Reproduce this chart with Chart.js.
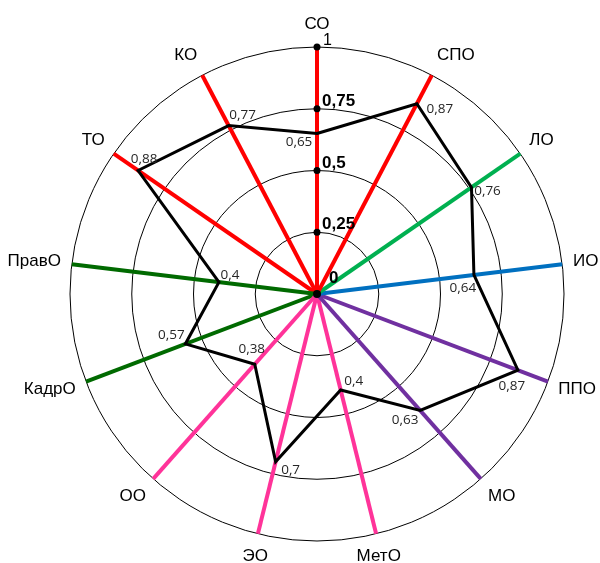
<!DOCTYPE html>
<html>
<head>
<meta charset="utf-8">
<script src="https://cdn.jsdelivr.net/npm/chart.js@4.4.0/dist/chart.umd.min.js"></script>
<style>
  body { margin: 0; background: #fff; }
  #wrap { position: relative; width: 600px; height: 563px; }
</style>
</head>
<body>
<div id="wrap"><canvas id="myChart"></canvas></div>
<script>
const labels = ["СО", "СПО", "ЛО", "ИО", "ППО", "МО", "МетО", "ЭО", "ОО", "КадрО", "ПравО", "ТО", "КО"];
const values = [0.65, 0.87, 0.76, 0.64, 0.87, 0.63, 0.4, 0.7, 0.38, 0.57, 0.4, 0.88, 0.77];
const tickValues = [0, 0.25, 0.5, 0.75, 1];
const tickLabels = ["0", "0,25", "0,5", "0,75", "1"];

const RED = "#ff0000", LGREEN = "#00b050", BLUE = "#0070c0", PURPLE = "#7030a0", PINK = "#ff3399", DGREEN = "#006a00";
const spokeColors = [RED, RED, LGREEN, BLUE, PURPLE, PURPLE, PINK, PINK, PINK, DGREEN, DGREEN, RED, RED];

// where each value label sits relative to its point
const labelOffsets = [[-18, 9], [23, 5], [16, 4], [-11, 13], [-6, 16], [-15, 10], [13, -9], [15, 8], [-3, -15], [-14, -9], [11, -7], [6, -11], [14, -10]];

const radarDecor = {
  id: 'radarDecor',
  afterDraw(chart) {
    const {ctx} = chart;
    const scale = chart.scales.r;
    ctx.save();

    // dots + tick labels on the first axis
    tickValues.forEach((v, i) => {
      const p = scale.getPointPositionForValue(0, v);
      ctx.fillStyle = "black";
      ctx.beginPath();
      ctx.arc(p.x, p.y, v === 0 ? 4 : 3.5, 0, Math.PI * 2);
      ctx.fill();
      ctx.textAlign = "left";
      ctx.textBaseline = "alphabetic";
      if (v === 1) {
        ctx.font = "16px 'Liberation Sans', Arial";
        ctx.fillText(tickLabels[i], p.x + 6, p.y - 2);
      } else if (v === 0) {
        ctx.font = "bold 17px 'Liberation Sans', Arial";
        ctx.fillText(tickLabels[i], p.x + 12, p.y - 11);
      } else {
        ctx.font = "bold 17px 'Liberation Sans', Arial";
        ctx.fillText(tickLabels[i], p.x + 5, p.y - 3);
      }
    });

    // category names round the outside
    ctx.font = "17px 'Liberation Sans', Arial";
    ctx.fillStyle = "black";
    ctx.textBaseline = "middle";
    const gap = 11;
    labels.forEach((lab, i) => {
      const p = scale.getPointPosition(i, scale.drawingArea + gap);
      const sx = (p.x - scale.xCenter) / (scale.drawingArea + gap);
      const cy = -(p.y - scale.yCenter) / (scale.drawingArea + gap);
      ctx.textAlign = Math.abs(sx) < 0.3 ? "center" : (sx > 0 ? "left" : "right");
      ctx.fillText(lab, p.x, p.y - cy * 12);
    });

    // value labels
    const meta = chart.getDatasetMeta(0);
    ctx.font = "13.5px 'Open Sans'";
    ctx.fillStyle = "#262626";
    ctx.textAlign = "center";
    meta.data.forEach((pt, i) => {
      const txt = String(values[i]).replace(".", ",");
      ctx.fillText(txt, pt.x + labelOffsets[i][0], pt.y + labelOffsets[i][1]);
    });
    ctx.restore();
  }
};

new Chart("myChart", {
  type: "radar",
  data: {
    labels: labels,
    datasets: [{
      data: values,
      borderColor: "black",
      borderWidth: 3,
      fill: false,
      pointRadius: 0,
      tension: 0
    }]
  },
  options: {
    responsive: true,
    maintainAspectRatio: false,
    animation: false,
    layout: { padding: { left: 70, right: 36, top: 47, bottom: 22 } },
    plugins: { legend: { display: false }, tooltip: { enabled: false } },
    scales: {
      r: {
        min: 0,
        max: 1,
        ticks: { display: false, stepSize: 0.25 },
        grid: { circular: true, color: "black", lineWidth: 1 },
        angleLines: { color: (c) => spokeColors[c.index], lineWidth: 4 },
        pointLabels: { display: false }
      }
    }
  },
  plugins: [radarDecor]
});
</script>
</body>
</html>
